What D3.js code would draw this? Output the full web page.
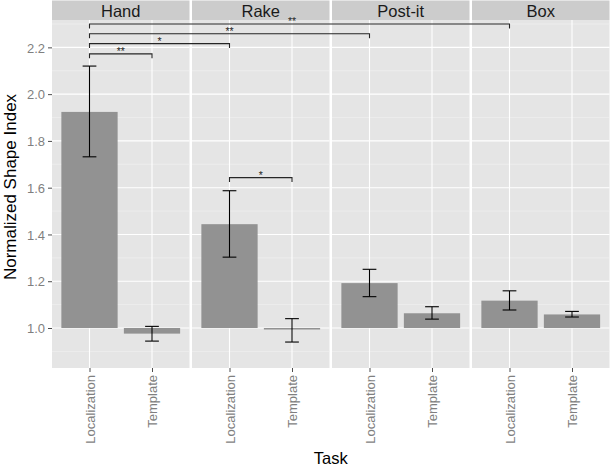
<!DOCTYPE html>
<html>
<head>
<meta charset="utf-8">
<script src="https://cdn.jsdelivr.net/npm/d3@7"></script>
<style>
  html, body { margin: 0; padding: 0; background: #ffffff; }
  svg { display: block; font-family: "Liberation Sans", Arial, Helvetica, sans-serif; }
</style>
</head>
<body>
<svg id="chart" width="610" height="470"></svg>
<script>
// ---- data ----
const tasks = ["Hand", "Rake", "Post-it", "Box"];
const conditions = ["Localization", "Template"];
const localizationMean = [1.924, 1.444, 1.192, 1.117];
const localizationLow  = [1.732, 1.303, 1.134, 1.077];
const localizationHigh = [2.120, 1.587, 1.251, 1.159];
const templateMean = [0.976, 0.994, 1.063, 1.058];
const templateLow  = [0.944, 0.940, 1.038, 1.047];
const templateHigh = [1.007, 1.040, 1.091, 1.071];
const baselineValue = 1.0;
const yTicks = [1.0, 1.2, 1.4, 1.6, 1.8, 2.0, 2.2];
const yMinor = [0.9, 1.1, 1.3, 1.5, 1.7, 1.9, 2.1, 2.3];
const brackets = [
  { from: ["Hand", "Localization"], to: ["Hand", "Template"], y: 2.172, label: "**" },
  { from: ["Hand", "Localization"], to: ["Rake", "Localization"], y: 2.216, label: "*" },
  { from: ["Hand", "Localization"], to: ["Post-it", "Localization"], y: 2.258, label: "**" },
  { from: ["Hand", "Localization"], to: ["Box", "Localization"], y: 2.300, label: "**", labelAt: ["Rake", "Template"] },
  { from: ["Rake", "Localization"], to: ["Rake", "Template"], y: 1.643, label: "*" }
];
const xTitle = "Task";
const yTitle = "Normalized Shape Index";

// ---- build rows ----
const rows = [];
tasks.forEach((t, i) => {
  rows.push({ task: t, cond: "Localization", mean: localizationMean[i], low: localizationLow[i], high: localizationHigh[i] });
  rows.push({ task: t, cond: "Template", mean: templateMean[i], low: templateLow[i], high: templateHigh[i] });
});

// ---- layout ----
const panelLeft = 52, panelRight = 609.5, panelTop = 20, panelBottom = 368;
const stripTop = 0.5;
const svg = d3.select("#chart");

const facet = d3.scaleBand().domain(tasks).range([panelLeft, panelRight])
  .paddingInner(2.5 / 140).paddingOuter(0);
const bw = facet.bandwidth();
const xIn = d3.scaleLinear().domain([0.4, conditions.length + 0.6]).range([0, bw]);
const condPos = c => conditions.indexOf(c) + 1;
const xAbs = (t, c) => facet(t) + xIn(condPos(c));
const unit = xIn(1) - xIn(0);

const y = d3.scaleLinear().domain([0.829, 2.317]).range([panelBottom, panelTop]);

const grey = "#7f7f7f";

// panels
tasks.forEach(t => {
  const g = svg.append("g").attr("transform", `translate(${facet(t)},0)`);
  g.append("rect").attr("x", 0).attr("y", panelTop).attr("width", bw)
    .attr("height", panelBottom - panelTop).attr("fill", "#e5e5e5");
  // minor grid
  g.selectAll("line.minor").data(yMinor.filter(v => y(v) > panelTop && y(v) < panelBottom)).enter()
    .append("line").attr("x1", 0).attr("x2", bw)
    .attr("y1", d => y(d)).attr("y2", d => y(d))
    .attr("stroke", "#f2f2f2").attr("stroke-width", 0.6);
  // major grid
  g.selectAll("line.major").data(yTicks).enter()
    .append("line").attr("x1", 0).attr("x2", bw)
    .attr("y1", d => y(d)).attr("y2", d => y(d))
    .attr("stroke", "#ffffff").attr("stroke-width", 1.1);
  g.selectAll("line.vmajor").data(conditions).enter()
    .append("line").attr("x1", d => xIn(condPos(d))).attr("x2", d => xIn(condPos(d)))
    .attr("y1", panelTop).attr("y2", panelBottom)
    .attr("stroke", "#ffffff").attr("stroke-width", 1.1);
  // strip
  g.append("rect").attr("x", 0).attr("y", stripTop).attr("width", bw)
    .attr("height", panelTop - stripTop).attr("fill", "#cccccc");
  g.append("text").attr("x", bw / 2).attr("y", 16.7).attr("text-anchor", "middle")
    .attr("font-size", 16.5).attr("fill", "#1a1a1a").text(t);
  // x ticks
  const xAxis = d3.axisBottom(d3.scalePoint().domain(conditions).range([xIn(1), xIn(2)]))
    .tickSize(4).tickPadding(3);
  const ax = g.append("g").attr("transform", `translate(0,${panelBottom})`).call(xAxis);
  ax.select(".domain").remove();
  ax.selectAll(".tick line").attr("stroke", "#4d4d4d").attr("stroke-width", 1);
  ax.selectAll(".tick text")
    .attr("transform", "rotate(-90)")
    .attr("x", -7).attr("y", 0).attr("dy", "0.36em")
    .attr("text-anchor", "end")
    .attr("font-size", 13).attr("fill", grey)
    .attr("font-family", "Liberation Sans, Arial, sans-serif");
});

// bars
svg.append("g").selectAll("rect").data(rows).enter().append("rect")
  .attr("x", d => xAbs(d.task, d.cond) - 0.45 * unit)
  .attr("width", 0.9 * unit)
  .attr("y", d => y(Math.max(d.mean, baselineValue)))
  .attr("height", d => Math.max(1.5, Math.abs(y(d.mean) - y(baselineValue))))
  .attr("fill", "#929292");

// error bars
const eb = svg.append("g").attr("stroke", "#000").attr("stroke-width", 1.1).attr("fill", "none");
rows.forEach(d => {
  const cx = xAbs(d.task, d.cond), hw = 0.11 * unit;
  eb.append("line").attr("x1", cx).attr("x2", cx).attr("y1", y(d.low)).attr("y2", y(d.high));
  eb.append("line").attr("x1", cx - hw).attr("x2", cx + hw).attr("y1", y(d.low)).attr("y2", y(d.low));
  eb.append("line").attr("x1", cx - hw).attr("x2", cx + hw).attr("y1", y(d.high)).attr("y2", y(d.high));
});

// significance brackets
const tickDrop = 0.019;
const br = svg.append("g");
brackets.forEach(b => {
  const x1 = xAbs(b.from[0], b.from[1]), x2 = xAbs(b.to[0], b.to[1]);
  const yy = y(b.y), yd = y(b.y - tickDrop);
  br.append("path")
    .attr("d", `M${x1},${yd}L${x1},${yy}L${x2},${yy}L${x2},${yd}`)
    .attr("fill", "none").attr("stroke", "#262626").attr("stroke-width", 1.1);
  const lx = b.labelAt ? xAbs(b.labelAt[0], b.labelAt[1]) : (x1 + x2) / 2;
  br.append("text").attr("x", lx).attr("y", yy + 1.5).attr("text-anchor", "middle")
    .attr("font-size", 10.5).attr("fill", "#262626").text(b.label);
});

// y axis
const yAxis = d3.axisLeft(y).tickValues(yTicks).tickFormat(d3.format(".1f")).tickSize(4).tickPadding(3);
const ya = svg.append("g").attr("transform", `translate(${panelLeft},0)`).call(yAxis);
ya.select(".domain").remove();
ya.selectAll(".tick line").attr("stroke", "#4d4d4d").attr("stroke-width", 1);
ya.selectAll(".tick text").attr("font-size", 13).attr("fill", grey)
  .attr("font-family", "Liberation Sans, Arial, sans-serif").attr("dy", "0.36em");

// axis titles
svg.append("text").attr("x", (panelLeft + panelRight) / 2).attr("y", 464)
  .attr("text-anchor", "middle").attr("font-size", 16.5).attr("fill", "#000").text(xTitle);
svg.append("text").attr("transform", `translate(15.5,${(panelTop + panelBottom) / 2 - 7}) rotate(-90)`)
  .attr("text-anchor", "middle").attr("font-size", 17).attr("fill", "#000").text(yTitle);
</script>
</body>
</html>
